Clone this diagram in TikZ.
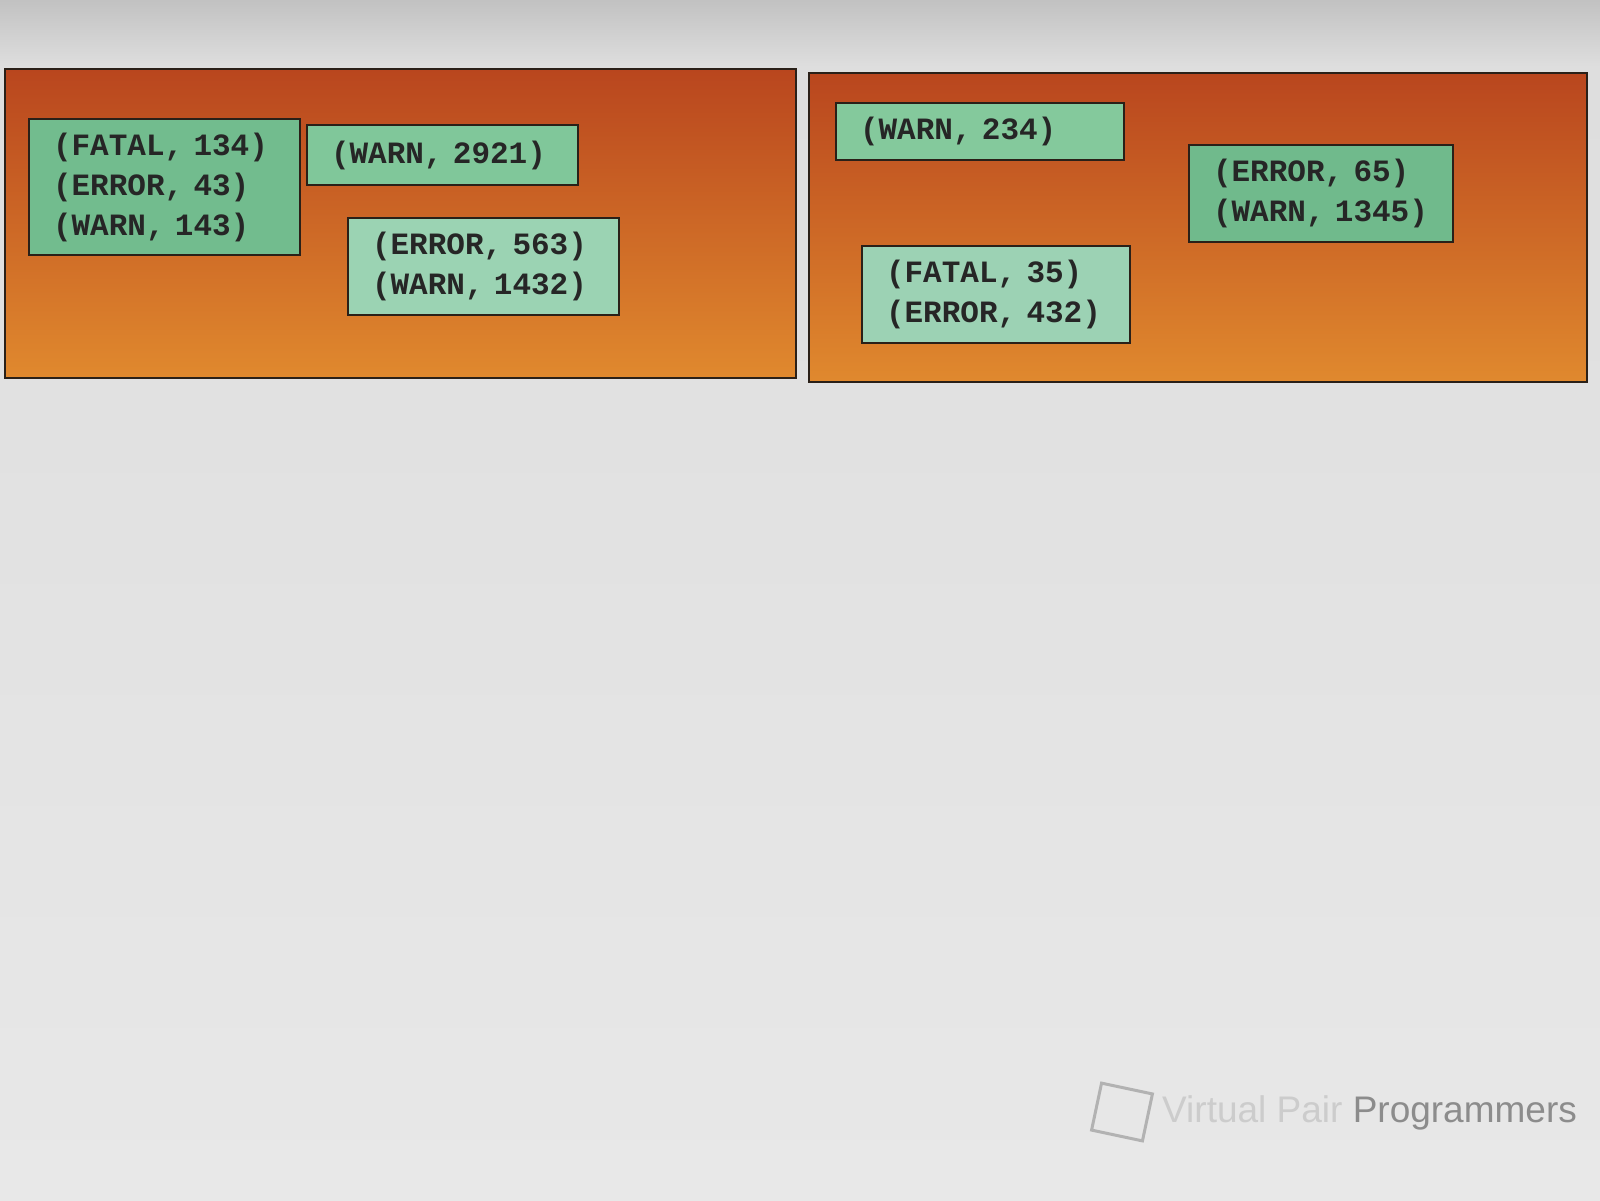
\documentclass[tikz,border=0pt]{standalone}
\usepackage{fontspec}
\setmonofont{Liberation Mono}
\newfontfamily\wmfont{Liberation Sans}
\usetikzlibrary{shapes.geometric}
\definecolor{frame}{HTML}{2A2018}
\definecolor{pantop}{HTML}{B9461E}
\definecolor{panbot}{HTML}{E0892E}
\definecolor{ga}{HTML}{72BC8E}
\definecolor{gb}{HTML}{80C79A}
\definecolor{gc}{HTML}{9BD3B3}
\definecolor{gd}{HTML}{84C99C}
\definecolor{ge}{HTML}{70BA8C}
\definecolor{gf}{HTML}{9CD2B4}
\tikzset{
  panel/.style={draw=frame, line width=2pt, top color=pantop, bottom color=panbot},
  logbox/.style={draw=frame, line width=2pt, rectangle, anchor=north west,
    inner xsep=24pt, inner ysep=0pt, align=left,
    font=\fontsize{31}{40}\selectfont\ttfamily\bfseries, text=black!85},
}
\begin{document}
\begin{tikzpicture}[x=1pt,y=-1pt]
\useasboundingbox (0,0) rectangle (1600,1200);
% background (screen photo)
\fill[top color=black!24, bottom color=black!13] (0,0) rectangle (1600,66);
\fill[top color=black!13, bottom color=black!9] (0,66) rectangle (1600,1200);
% panels
\path[panel] (5,69) rectangle (796,378);
\path[panel] (809,73) rectangle (1587,382);
% left panel boxes
\node[logbox, fill=ga, minimum width=271pt, minimum height=136pt, text width=223pt] (a) at (28,118)
  {(FATAL, 134)\\(ERROR, 43)\\(WARN, 143)};
\node[logbox, fill=gb, minimum width=271pt, minimum height=60pt, text width=223pt] (b) at (306,124)
  {(WARN, 2921)};
\node[logbox, fill=gc, minimum width=269pt, minimum height=97pt, text width=223pt] (c) at (347,217)
  {(ERROR, 563)\\(WARN, 1432)};
% right panel boxes
\node[logbox, fill=gd, minimum width=288pt, minimum height=57pt, text width=240pt] (d) at (835,102)
  {(WARN, 234)};
\node[logbox, fill=ge, minimum width=264pt, minimum height=97pt, text width=216pt] (e) at (1188,144)
  {(ERROR, 65)\\(WARN, 1345)};
\node[logbox, fill=gf, minimum width=268pt, minimum height=97pt, text width=220pt] (f) at (861,245)
  {(FATAL, 35)\\(ERROR, 432)};
% watermark
\draw[draw=black!30, line width=3pt, rotate around={-12:(1122,1112)}] (1096,1088) rectangle (1148,1136);
\node[anchor=base west, inner sep=0pt, font=\wmfont\fontsize{37}{44}\selectfont] (wm) at (1162,1122)
  {\textcolor{black!20}{Virtual Pair }\textcolor{black!45}{Programmers}};
\end{tikzpicture}
\end{document}
